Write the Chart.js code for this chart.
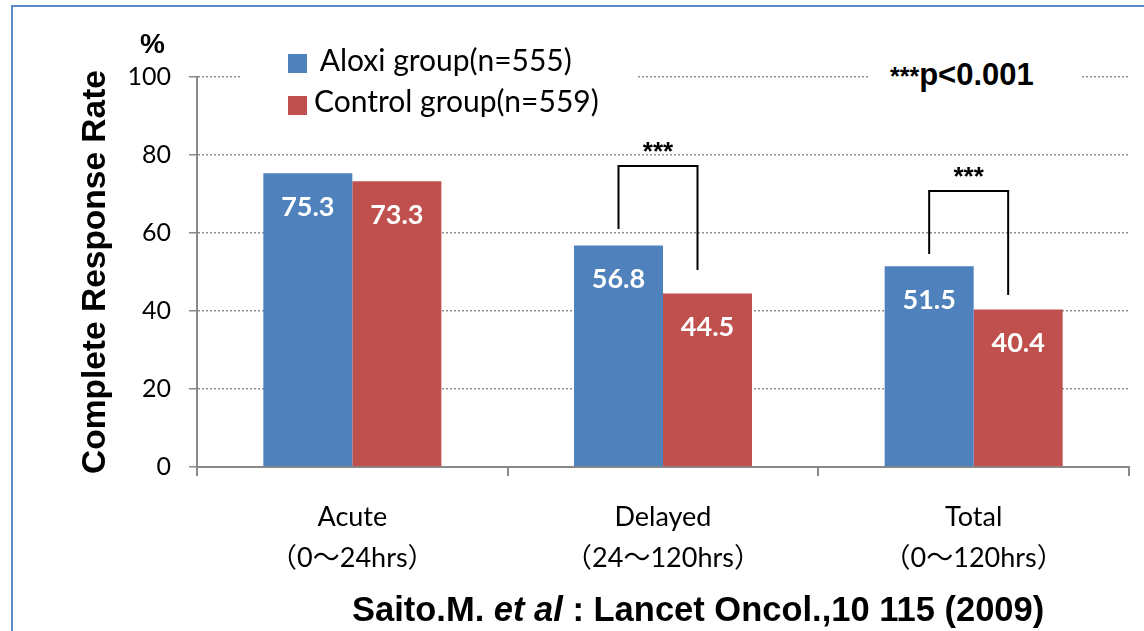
<!DOCTYPE html>
<html>
<head>
<meta charset="utf-8">
<script src="https://cdn.jsdelivr.net/npm/chart.js@4/dist/chart.umd.min.js"></script>
<style>
  html, body { margin: 0; padding: 0; background: #fff; }
  #wrap { position: relative; width: 1144px; height: 631px; overflow: hidden; }
  #chartBox { position: absolute; left: 0; top: 0; width: 1144px; height: 631px; }
  .frame { position: absolute; left: 11px; top: 5px; width: 1200px; height: 700px;
           border: 2px solid #5b89c8; box-sizing: border-box; pointer-events: none; }
  .box { position: absolute; background: #fff; }
  .txt { position: absolute; white-space: nowrap; line-height: 1; color: #000; }
  .sq { position: absolute; width: 19px; height: 19px; }
  .arial { font-family: "Liberation Sans", Arial, sans-serif; font-weight: bold; }
  .lato { font-family: Lato, "Noto Sans", sans-serif; }
</style>
</head>
<body>
<div id="wrap">
  <div id="chartBox"><canvas id="crChart"></canvas></div>

  <div class="box" style="left:240px;top:44px;width:397px;height:82px;"></div>
  <div class="sq" style="left:288px;top:54px;background:#4f81bd;"></div>
  <div class="txt lato" style="left:313px;top:44px;font-size:30px;">&nbsp;Aloxi group(n=555)</div>
  <div class="sq" style="left:288px;top:96px;background:#c0504d;"></div>
  <div class="txt lato" style="left:314px;top:85px;font-size:30px;">Control group(n=559)</div>

  <div class="box" style="left:868px;top:56px;width:212px;height:42px;"></div>
  <div class="txt arial" style="left:890px;top:59px;font-size:31px;"><span style="font-size:25px;">***</span>p&lt;0.001</div>

  <div class="txt arial" style="left:140px;top:30px;font-size:28px;">%</div>

  <div class="txt arial" style="left:352px;top:592px;font-size:34.5px;">Saito.M. <i>et al</i> : Lancet Oncol.,10 115 (2009)</div>

  <div class="frame"></div>
</div>

<script>
// categories and values
const categories = [
  ['Acute', '（0～24hrs）'],
  ['Delayed', '（24～120hrs）'],
  ['Total', '（0～120hrs）']
];
const aloxiValues = [75.3, 56.8, 51.5];
const controlValues = [73.3, 44.5, 40.4];
const seriesNames = ['Aloxi group(n=555)', 'Control group(n=559)'];

// significance brackets (category index, y values in %)
const bracketCats = [1, 2];
const bracketTop = [77.2, 70.8];
const bracketLeftEnd = [61.0, 54.6];
const bracketRightEnd = [50.5, 44.1];
const bracketMark = '***';

const blue = '#4f81bd';
const red = '#c0504d';
const axisColor = '#898989';
const gridColor = '#8f8f8f';

Chart.defaults.font.family = 'Lato, "Noto Sans CJK JP", sans-serif';
Chart.defaults.color = '#000';

const labelsPlugin = {
  id: 'barLabels',
  afterDatasetsDraw(chart) {
    const ctx = chart.ctx;
    const yScale = chart.scales.y;
    const blueBars = chart.getDatasetMeta(0).data;
    const redBars = chart.getDatasetMeta(1).data;
    ctx.save();
    // values inside the bars
    ctx.fillStyle = '#fff';
    ctx.font = 'bold 27px Lato';
    ctx.textAlign = 'center';
    ctx.textBaseline = 'middle';
    chart.data.datasets.forEach((ds, i) => {
      chart.getDatasetMeta(i).data.forEach((bar, j) => {
        ctx.fillText(ds.data[j].toFixed(1), bar.x, bar.y + 34);
      });
    });
    // brackets with stars
    ctx.strokeStyle = '#000';
    ctx.lineWidth = 2;
    ctx.fillStyle = '#000';
    ctx.font = 'bold 26px "Liberation Sans"';
    ctx.textBaseline = 'alphabetic';
    bracketCats.forEach((c, k) => {
      const x1 = blueBars[c].x;
      const x2 = redBars[c].x - 10;
      const top = yScale.getPixelForValue(bracketTop[k]);
      ctx.beginPath();
      ctx.moveTo(x1, yScale.getPixelForValue(bracketLeftEnd[k]));
      ctx.lineTo(x1, top);
      ctx.lineTo(x2, top);
      ctx.lineTo(x2, yScale.getPixelForValue(bracketRightEnd[k]));
      ctx.stroke();
      ctx.fillText(bracketMark, (x1 + x2) / 2, top - 6);
    });
    ctx.restore();
  }
};

new Chart(document.getElementById('crChart'), {
  type: 'bar',
  data: {
    labels: categories,
    datasets: [
      { label: seriesNames[0], data: aloxiValues, backgroundColor: blue },
      { label: seriesNames[1], data: controlValues, backgroundColor: red }
    ]
  },
  options: {
    responsive: true,
    maintainAspectRatio: false,
    animation: false,
    layout: { padding: { top: 77, right: 15, left: 0, bottom: 0 } },
    datasets: { bar: { categoryPercentage: 0.573, barPercentage: 1 } },
    plugins: { legend: { display: false }, tooltip: { enabled: false } },
    scales: {
      x: {
        afterFit: s => { s.height = 164; },
        border: { color: axisColor, width: 2 },
        grid: { offset: true, drawOnChartArea: false, tickLength: 9, color: axisColor, lineWidth: 2 },
        ticks: {
          autoSkip: false, maxRotation: 0, padding: 20,
          font: { size: 27, lineHeight: 1.55 }
        }
      },
      y: {
        min: 0, max: 100,
        afterFit: s => { s.width = 197; },
        border: { color: axisColor, width: 2, dash: [2, 2] },
        grid: { color: gridColor, tickBorderDash: [], tickColor: axisColor, tickLength: 8, lineWidth: 1.5 },
        ticks: { stepSize: 20, padding: 18, font: { size: 25 } },
        title: {
          display: true,
          text: 'Complete Response Rate',
          font: { family: '"Liberation Sans", Arial, sans-serif', weight: 'bold', size: 33.5, lineHeight: 1.2 },
          padding: { top: 76, bottom: 0 }
        }
      }
    }
  },
  plugins: [labelsPlugin]
});
</script>
</body>
</html>
